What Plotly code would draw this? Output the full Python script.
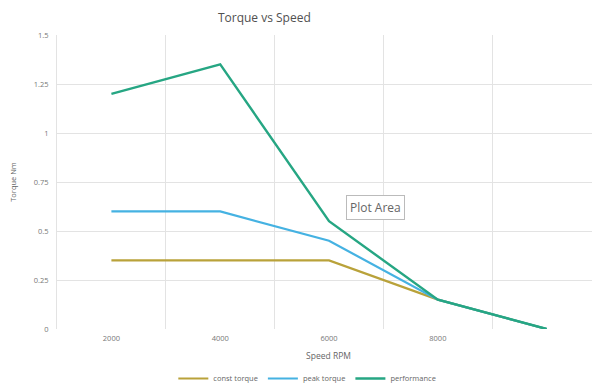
import plotly.graph_objects as go

speed_labels = ["2000", "4000", "6000", "8000", " "]
const_torque = [0.35, 0.35, 0.35, 0.15, 0.0]
peak_torque = [0.6, 0.6, 0.45, 0.15, 0.0]
performance = [1.2, 1.35, 0.55, 0.15, 0.0]
y_ticks = [0, 0.25, 0.5, 0.75, 1, 1.25, 1.5]
y_tick_text = ["0", "0.25", "0.5", "0.75", "1", "1.25", "1.5"]

fig = go.Figure()
fig.add_trace(go.Scatter(x=speed_labels, y=const_torque, mode="lines", name="const torque",
                         line=dict(color="#B9A23A", width=2.2)))
fig.add_trace(go.Scatter(x=speed_labels, y=peak_torque, mode="lines", name="peak torque",
                         line=dict(color="#45B2E2", width=2.2)))
fig.add_trace(go.Scatter(x=speed_labels, y=performance, mode="lines", name="performance",
                         line=dict(color="#26A683", width=2.4)))

fig.update_layout(
    width=592, height=377,
    margin=dict(l=49, r=0, t=27, b=56, autoexpand=False),
    paper_bgcolor="white", plot_bgcolor="white",
    font=dict(family="Open Sans, Liberation Sans, sans-serif", color="#666666"),
    title=dict(text="Torque vs Speed", x=0.433, xanchor="center", y=0.973, yref="container",
               yanchor="middle", automargin=False,
               font=dict(size=12, color="#505050")),
    xaxis=dict(type="category", tickson="boundaries", ticks="", showgrid=True,
               gridcolor="#E3E3E3", gridwidth=1, showline=False, zeroline=False,
               range=[-0.5, 4.49], tickfont=dict(size=7.5, color="#777777"), automargin=False,
               ticklabelstandoff=3,
               title=dict(text="Speed RPM", font=dict(size=8.5, color="#666666"), standoff=11)),
    yaxis=dict(range=[0, 1.5], tickvals=y_ticks, ticktext=y_tick_text, showgrid=True,
               gridcolor="#E3E3E3", gridwidth=1, zeroline=False, showline=True,
               linecolor="#E3E3E3", linewidth=1, ticks="",
               tickfont=dict(size=7.5, color="#777777"), ticklabelstandoff=6, automargin=False,
               title=dict(text="Torque Nm", font=dict(size=7.5, color="#666666"), standoff=19)),
    legend=dict(orientation="h", x=0.461, xanchor="center",
                y=-0.119, yanchor="top",
                font=dict(size=7.5, color="#666666"), itemwidth=30, tracegroupgap=0),
    showlegend=True,
)

fig.add_annotation(x=0.586, y=0.412, xref="paper", yref="paper", text="Plot Area",
                   showarrow=False, font=dict(size=12, color="#666666"),
                   bgcolor="white", bordercolor="#BBBBBB", borderwidth=1, borderpad=3)

fig.write_html("out.html")
